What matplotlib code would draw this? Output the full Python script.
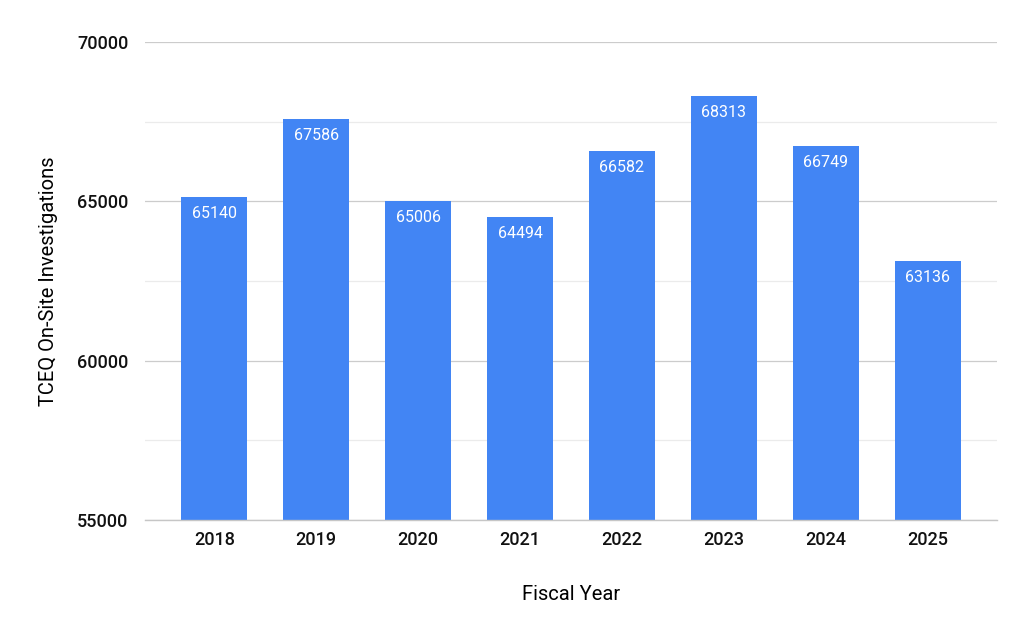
import matplotlib.pyplot as plt
import numpy as np

plt.rcParams['font.family'] = ['Roboto', 'DejaVu Sans']

years = ['2018', '2019', '2020', '2021', '2022', '2023', '2024', '2025']
investigations = [65140, 67586, 65006, 64494, 66582, 68313, 66749, 63136]

fig = plt.figure(figsize=(10.28, 6.36), dpi=100)
ax = fig.add_axes([0.141, 0.1824, 0.829, 0.7516])

x = np.arange(len(years))
ax.bar(x, investigations, width=0.65, color='#4285F4', zorder=3)

# value labels inside the top of each bar
for xi, v in zip(x, investigations):
    ax.text(xi, v - 280, str(v), ha='center', va='top', color='white',
            fontsize=11.5, zorder=4)

ax.set_ylim(55000, 70000)
ax.set_xlim(-0.68, 7.68)
ax.set_yticks([55000, 60000, 65000, 70000])
ax.set_yticks([57500, 62500, 67500], minor=True)
ax.grid(axis='y', which='major', color='#cccccc', linewidth=0.9, zorder=0)
ax.grid(axis='y', which='minor', color='#ebebeb', linewidth=0.9, zorder=0)
ax.tick_params(axis='y', which='both', length=0, pad=12, labelsize=13)
ax.tick_params(axis='x', length=0, pad=8, labelsize=13)
ax.set_xticks(x)
ax.set_xticklabels(years)
for lbl in ax.get_xticklabels() + ax.get_yticklabels():
    lbl.set_fontweight('medium')
    lbl.set_color('#111111')

for s in ['top', 'right', 'left']:
    ax.spines[s].set_visible(False)
ax.spines['bottom'].set_color('#c6c6c6')
ax.spines['bottom'].set_linewidth(1.0)
ax.spines['bottom'].set_zorder(5)

ax.set_xlabel('Fiscal Year', fontsize=14.5, labelpad=26)
ax.set_ylabel('TCEQ On-Site Investigations', fontsize=14.5, labelpad=14)

fig.savefig('out.png', dpi=100)
